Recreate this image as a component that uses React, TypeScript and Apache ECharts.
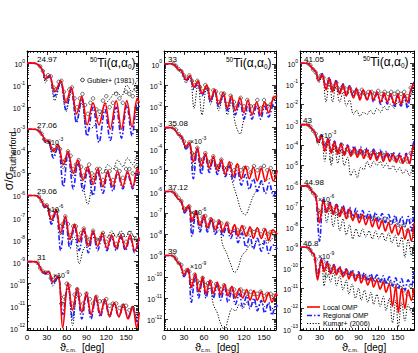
import React, { useEffect, useRef } from "react";
import * as echarts from "echarts";

const FONT = "'Liberation Sans', Arial, Helvetica, sans-serif";

// ---------- axis tick labels ----------
const xTickLabels = [0, 30, 60, 90, 120, 150];

// ---------- energies (MeV) and scale factors (log10) ----------
const energyLabels = ["24.97", "27.06", "29.06", "31", "33", "35.08", "37.12", "39", "41.05", "43", "44.98", "46.8"];
const scaleExponents = [0, -3, -6, -9, 0, -3, -6, -9, 0, -3, -6, -9];

// ---------- values: log10(sigma/sigma_Rutherford), unscaled ----------
// 24.97 MeV
const ang2497 = [0, 10, 18, 24, 28, 34, 42, 51, 59, 67, 75, 83, 91, 100, 109, 118, 126, 135, 143, 151, 159, 167, 170];
const local2497 = [0, 0, -0.1, -0.35, -0.7, -0.55, -1.3, -0.8, -1.8, -1.1, -2.3, -1.5, -2.8, -1.8, -2.8, -1.8, -3.0, -1.7, -3.0, -1.7, -2.9, -1.6, -1.8];
const regional2497 = [0, 0, -0.1, -0.35, -0.75, -0.6, -1.5, -0.85, -2.1, -1.2, -2.7, -1.6, -3.3, -2.0, -3.6, -2.1, -3.5, -2.0, -3.4, -1.9, -3.3, -1.8, -2.0];
const kumar2497 = [0, 0, -0.1, -0.4, -0.9, -0.55, -1.7, -0.9, -2.2, -1.3, -2.6, -1.8, -3.0, -2.9, -2.4, -1.9, -1.6, -1.3, -1.5, -1.0, -1.3, -0.8, -0.9];
const expAng2497 = [20, 24, 28, 32, 36, 40, 44, 48, 52, 56, 60, 64, 68, 72, 76, 80, 84, 88, 92, 96, 100, 105, 110, 115, 120, 125, 130, 135, 140, 145, 150, 155, 160, 165, 170];
const exp2497 = [-0.15, -0.35, -0.65, -0.55, -0.6, -1.1, -1.2, -0.85, -0.8, -1.3, -1.7, -1.2, -1.1, -1.6, -2.0, -1.6, -1.4, -1.9, -2.3, -1.8, -1.6, -2.1, -2.2, -1.7, -1.5, -2.0, -1.8, -1.4, -1.6, -1.8, -1.3, -1.4, -1.5, -1.2, -1.3];

// 27.06 MeV
const ang2706 = [0, 10, 17, 24, 28, 32, 40, 47, 55, 62, 70, 77, 85, 92, 100, 107, 115, 122, 130, 137, 145, 152, 160, 167, 170];
const local2706 = [0, 0, -0.05, -0.3, -0.55, -0.5, -1.0, -0.7, -1.6, -1.0, -2.0, -1.4, -2.3, -1.7, -2.5, -1.8, -2.6, -1.9, -2.6, -1.9, -2.6, -1.9, -2.6, -1.8, -2.0];
const regional2706 = [0, 0, -0.05, -0.3, -0.6, -0.55, -1.3, -0.75, -2.6, -1.05, -2.7, -1.5, -2.8, -1.8, -3.0, -1.9, -2.9, -2.0, -2.8, -2.0, -2.7, -2.0, -2.7, -1.9, -2.1];
const kumar2706 = [0, 0, -0.05, -0.3, -0.6, -0.55, -1.2, -0.75, -1.8, -1.1, -2.2, -1.6, -2.6, -3.4, -2.2, -1.9, -2.0, -1.6, -1.8, -1.4, -1.7, -1.3, -1.6, -1.2, -1.3];
const expAng2706 = [18, 22, 26, 30, 34, 38, 42, 46, 50, 54, 58, 62, 66, 70, 74, 78, 82, 86, 90, 94, 98, 102, 106, 110, 115, 120, 125, 130, 135, 140, 145, 150, 155, 160, 165];
const exp2706 = [-0.05, -0.2, -0.45, -0.55, -0.55, -0.9, -0.95, -0.75, -0.9, -1.5, -1.4, -1.0, -1.2, -1.8, -1.6, -1.4, -1.7, -2.1, -1.8, -1.6, -2.0, -2.2, -1.8, -1.8, -2.3, -1.9, -1.9, -2.3, -1.8, -1.9, -2.2, -1.8, -1.8, -2.0, -1.7];

// 29.06 MeV
const ang2906 = [0, 10, 17, 23, 27, 30, 37, 44, 51, 58, 65, 72, 79, 86, 93, 100, 107, 114, 121, 128, 135, 142, 149, 156, 163, 170];
const local2906 = [0, 0, -0.05, -0.3, -0.5, -0.45, -1.1, -0.65, -1.7, -0.95, -2.0, -1.3, -2.1, -1.5, -2.3, -1.6, -2.3, -1.7, -2.4, -1.8, -2.4, -1.8, -2.4, -1.8, -2.5, -1.9];
const regional2906 = [0, 0, -0.05, -0.3, -0.55, -0.5, -1.3, -0.7, -2.5, -1.0, -2.4, -1.4, -2.5, -1.6, -2.6, -1.7, -2.5, -1.8, -2.5, -1.9, -2.5, -1.9, -2.5, -1.9, -2.6, -2.0];
const kumar2906 = [0, 0, -0.05, -0.3, -0.55, -0.5, -1.2, -0.7, -1.8, -1.1, -2.2, -1.9, -3.1, -2.4, -2.2, -1.9, -2.0, -1.7, -1.9, -1.6, -1.9, -1.6, -1.9, -1.6, -1.9, -1.6];
const expAng2906 = [18, 22, 26, 30, 34, 38, 42, 46, 50, 54, 58, 62, 66, 70, 74, 78, 82, 86, 90, 95, 100, 105, 110, 115, 120, 125, 130, 135, 140, 145, 150, 155, 160, 165];
const exp2906 = [-0.05, -0.25, -0.45, -0.45, -0.7, -1.0, -0.7, -0.7, -1.4, -1.3, -0.95, -1.3, -1.8, -1.4, -1.4, -1.9, -1.7, -1.5, -1.9, -2.0, -1.6, -2.0, -2.0, -1.7, -2.1, -1.9, -1.8, -2.2, -1.8, -1.8, -2.1, -1.7, -1.9, -2.0];

// 31 MeV
const ang31 = [0, 10, 16, 22, 28, 33, 39, 47, 54, 62, 69, 76, 83, 90, 97, 104, 111, 118, 125, 132, 139, 146, 153, 160, 166, 170];
const local31 = [0, 0, -0.05, -0.4, -0.5, -0.45, -0.9, -0.65, -3.0, -0.95, -2.2, -1.2, -2.3, -1.4, -2.4, -1.55, -2.4, -1.7, -2.5, -1.85, -2.5, -1.95, -2.6, -2.05, -3.0, -2.3];
const regional31 = [0, 0, -0.05, -0.4, -0.55, -0.5, -1.0, -0.7, -2.4, -1.0, -2.6, -1.3, -2.6, -1.5, -2.6, -1.65, -2.5, -1.8, -2.5, -1.9, -2.5, -2.0, -2.5, -2.1, -2.7, -2.3];
const kumar31 = [0, 0, -0.05, -0.4, -0.55, -0.5, -1.1, -0.75, -1.9, -1.2, -2.9, -1.5, -2.2, -1.6, -2.4, -1.7, -2.3, -1.8, -2.4, -1.9, -2.5, -1.9, -2.6, -2.0, -2.6, -2.1];
const expAng31 = [16, 20, 24, 28, 32, 36, 40, 44, 48, 52, 56, 60, 64, 68, 72, 76, 80, 85, 90, 95, 100, 105, 110, 115, 120, 125, 130, 135, 140, 145, 150, 155, 160, 165, 170];
const exp31 = [-0.05, -0.3, -0.45, -0.5, -0.5, -0.75, -0.85, -0.7, -0.7, -1.9, -1.6, -1.0, -1.1, -1.9, -1.5, -1.25, -1.5, -1.9, -1.45, -1.7, -1.9, -1.6, -1.8, -1.8, -1.7, -2.0, -1.9, -1.9, -2.1, -2.0, -2.0, -2.2, -2.1, -2.4, -2.2];

// measured angles shared by the middle panel data sets
const expAngMid = [14, 18, 22, 26, 30, 34, 38, 42, 46, 50, 54, 58, 62, 66, 70, 74, 78, 82, 86, 90, 95, 100, 105, 110, 115, 120, 125, 130, 135, 140, 145, 150, 155, 160, 165];

// 33 MeV
const ang33 = [0, 10, 16, 21, 27, 33, 39, 45, 51, 57, 64, 70, 76, 82, 89, 95, 101, 107, 114, 120, 126, 132, 139, 145, 151, 157, 164, 170];
const local33 = [0, 0, -0.05, -0.25, -0.35, -0.75, -0.55, -1.1, -0.8, -1.4, -1.0, -1.7, -1.2, -1.9, -1.35, -2.1, -1.5, -2.2, -1.6, -2.3, -1.7, -2.4, -1.8, -2.4, -1.8, -2.3, -1.6, -1.5];
const regional33 = [0, 0, -0.05, -0.25, -0.4, -0.8, -0.6, -1.2, -0.85, -1.5, -1.05, -1.8, -1.25, -2.0, -1.45, -2.2, -1.6, -2.4, -1.8, -2.6, -1.9, -2.6, -2.0, -2.6, -2.0, -2.5, -1.9, -1.8];
const kumar33 = [0, 0, -0.05, -0.25, -0.4, -0.9, -0.6, -2.1, -0.9, -2.4, -1.1, -1.9, -1.3, -2.2, -1.5, -2.4, -1.8, -2.8, -3.3, -2.6, -2.2, -2.3, -1.9, -2.1, -1.8, -2.0, -1.7, -1.6];
const exp33 = [0, -0.1, -0.25, -0.35, -0.55, -0.7, -0.55, -0.8, -1.0, -0.8, -1.1, -1.3, -1.0, -1.2, -1.6, -1.25, -1.3, -1.8, -1.4, -1.4, -1.9, -1.5, -1.8, -2.0, -1.6, -2.0, -1.7, -2.0, -2.0, -1.7, -2.1, -1.7, -2.0, -1.9, -1.6];

// 35.08 MeV
const ang3508 = [0, 10, 15, 21, 27, 33, 38, 44, 50, 56, 62, 68, 74, 80, 86, 92, 98, 104, 110, 116, 122, 128, 134, 140, 146, 152, 158, 164, 170];
const local3508 = [0, 0, -0.05, -0.3, -0.45, -0.9, -0.7, -1.6, -0.95, -1.8, -1.2, -1.9, -1.35, -2.0, -1.5, -2.2, -1.6, -2.3, -1.7, -2.4, -1.8, -2.4, -1.85, -2.5, -1.9, -2.5, -1.95, -2.5, -2.0];
const regional3508 = [0, 0, -0.05, -0.3, -0.5, -1.0, -0.75, -2.4, -1.0, -2.2, -1.25, -2.1, -1.45, -2.2, -1.6, -2.3, -1.8, -2.5, -2.0, -2.7, -2.2, -2.9, -2.4, -3.0, -2.5, -3.1, -2.6, -3.2, -2.8];
const kumar3508 = [0, 0, -0.05, -0.3, -0.5, -1.0, -0.75, -1.9, -1.05, -2.0, -1.3, -2.0, -1.5, -2.1, -1.8, -2.2, -2.2, -2.7, -3.3, -3.9, -4.1, -3.7, -3.2, -2.9, -2.6, -2.5, -2.4, -2.3, -2.3];
const exp3508 = [0, -0.1, -0.3, -0.45, -0.65, -0.9, -0.7, -1.2, -1.3, -0.95, -1.5, -1.5, -1.2, -1.6, -1.6, -1.35, -1.8, -1.8, -1.5, -1.9, -1.9, -1.7, -2.0, -1.8, -2.0, -1.9, -1.9, -2.1, -1.8, -2.0, -1.9, -1.8, -2.0, -1.9, -2.1];

// 37.12 MeV
const ang3712 = [0, 10, 15, 20, 26, 31, 37, 42, 48, 54, 60, 65, 71, 77, 83, 88, 94, 100, 106, 111, 117, 123, 129, 134, 140, 146, 152, 157, 163, 170];
const local3712 = [0, 0, -0.05, -0.3, -0.45, -0.9, -0.65, -1.4, -0.9, -1.6, -1.1, -1.7, -1.25, -1.8, -1.35, -1.9, -1.45, -2.0, -1.55, -2.1, -1.6, -2.1, -1.65, -2.2, -1.7, -2.2, -1.75, -2.3, -1.8, -2.0];
const regional3712 = [0, 0, -0.05, -0.3, -0.5, -1.0, -0.7, -2.1, -0.95, -1.9, -1.15, -1.9, -1.3, -2.0, -1.45, -2.1, -1.6, -2.2, -1.8, -2.4, -1.95, -2.6, -2.1, -2.7, -2.2, -2.8, -2.3, -2.9, -2.5, -2.7];
const kumar3712 = [0, 0, -0.05, -0.3, -0.5, -1.0, -0.7, -1.7, -1.0, -1.8, -1.2, -1.8, -1.4, -2.0, -1.8, -2.5, -2.9, -3.4, -3.8, -3.6, -3.0, -2.8, -2.5, -2.6, -2.3, -2.5, -2.2, -2.4, -2.2, -2.2];
const exp3712 = [0, -0.15, -0.3, -0.45, -0.8, -0.8, -0.7, -1.3, -1.0, -1.0, -1.5, -1.2, -1.15, -1.6, -1.3, -1.4, -1.7, -1.4, -1.5, -1.8, -1.5, -1.9, -1.7, -1.8, -1.9, -1.7, -2.0, -1.8, -1.9, -1.8, -2.0, -1.8, -2.0, -1.9, -2.0];

// 39 MeV
const ang39 = [0, 10, 15, 20, 25, 30, 36, 41, 47, 52, 58, 63, 69, 74, 80, 85, 91, 96, 102, 107, 113, 118, 124, 129, 135, 140, 146, 151, 157, 162, 168, 170];
const local39 = [0, 0, -0.05, -0.3, -0.45, -0.9, -0.6, -1.5, -0.85, -1.7, -1.0, -1.8, -1.15, -1.8, -1.25, -1.85, -1.35, -1.9, -1.45, -2.0, -1.55, -2.0, -1.6, -2.1, -1.65, -2.1, -1.7, -2.2, -1.75, -2.2, -1.8, -1.9];
const regional39 = [0, 0, -0.05, -0.3, -0.5, -1.0, -0.65, -2.2, -0.9, -2.0, -1.1, -2.0, -1.25, -2.0, -1.4, -2.1, -1.5, -2.2, -1.65, -2.3, -1.8, -2.4, -1.9, -2.5, -2.0, -2.6, -2.1, -2.7, -2.2, -2.8, -2.3, -2.4];
const kumar39 = [0, 0, -0.05, -0.3, -0.5, -1.0, -0.65, -1.6, -0.95, -1.8, -1.2, -1.9, -1.5, -2.3, -2.7, -3.2, -3.5, -3.0, -2.5, -2.6, -2.3, -2.5, -2.2, -2.4, -2.2, -2.4, -2.2, -2.4, -2.3, -2.5, -2.4, -2.5];
const exp39 = [0, -0.15, -0.35, -0.45, -0.8, -0.7, -0.75, -1.2, -0.9, -1.2, -1.3, -1.05, -1.4, -1.3, -1.25, -1.6, -1.35, -1.5, -1.6, -1.4, -1.7, -1.6, -1.6, -1.8, -1.6, -1.7, -1.8, -1.7, -1.8, -1.8, -1.7, -1.9, -1.8, -1.8, -1.9];

// measured angles shared by the right panel data sets
const expAngRight = [12, 16, 20, 24, 28, 32, 36, 40, 44, 48, 52, 56, 60, 64, 68, 72, 76, 80, 85, 90, 95, 100, 105, 110, 115, 120, 125, 130, 135, 140, 145, 150, 155, 160, 165, 170];

// 41.05 MeV
const ang4105 = [0, 10, 14, 19, 24, 29, 34, 40, 45, 50, 55, 61, 66, 71, 76, 82, 87, 92, 97, 103, 108, 113, 118, 124, 129, 134, 139, 145, 150, 155, 160, 165, 170, 175];
const local4105 = [0, 0, -0.05, -0.25, -0.4, -0.85, -0.55, -1.3, -0.75, -1.4, -0.9, -1.5, -1.05, -1.6, -1.15, -1.7, -1.25, -1.8, -1.3, -1.8, -1.35, -1.8, -1.4, -1.9, -1.45, -1.9, -1.5, -2.0, -1.5, -2.0, -1.5, -1.9, -1.3, -1.0];
const regional4105 = [0, 0, -0.05, -0.25, -0.4, -0.8, -0.5, -1.2, -0.7, -1.35, -0.85, -1.45, -1.0, -1.55, -1.1, -1.65, -1.2, -1.75, -1.3, -1.8, -1.4, -1.9, -1.5, -2.0, -1.55, -2.0, -1.6, -2.1, -1.6, -2.1, -1.6, -2.2, -1.4, -0.9];
const kumar4105 = [0, 0, -0.05, -0.25, -0.45, -0.95, -0.6, -1.9, -0.85, -1.9, -1.1, -1.9, -1.4, -2.1, -1.8, -2.5, -2.3, -2.6, -2.4, -2.5, -2.3, -2.5, -2.2, -2.4, -2.1, -2.3, -2.0, -2.2, -1.9, -2.1, -1.8, -2.0, -1.6, -1.2];
const exp4105 = [0, -0.1, -0.3, -0.45, -0.75, -0.6, -0.7, -1.1, -0.8, -1.1, -1.2, -0.95, -1.3, -1.2, -1.2, -1.45, -1.2, -1.4, -1.4, -1.5, -1.3, -1.5, -1.4, -1.4, -1.5, -1.35, -1.5, -1.4, -1.5, -1.4, -1.5, -1.4, -1.5, -1.4, -1.6, -1.2];

// 43 MeV
const ang43 = [0, 10, 14, 18, 23, 28, 33, 38, 43, 48, 53, 58, 63, 68, 73, 78, 83, 88, 93, 98, 103, 108, 113, 118, 123, 128, 133, 138, 143, 148, 153, 158, 163, 168, 172, 175];
const local43 = [0, 0, -0.05, -0.2, -0.4, -0.85, -0.55, -1.3, -0.7, -1.4, -0.85, -1.45, -0.95, -1.5, -1.05, -1.55, -1.15, -1.6, -1.2, -1.65, -1.25, -1.7, -1.3, -1.75, -1.35, -1.8, -1.4, -1.8, -1.45, -1.85, -1.5, -1.9, -1.5, -1.9, -1.3, -1.0];
const regional43 = [0, 0, -0.05, -0.2, -0.4, -0.8, -0.5, -1.2, -0.65, -1.3, -0.8, -1.35, -0.9, -1.4, -1.0, -1.45, -1.05, -1.5, -1.1, -1.55, -1.15, -1.6, -1.2, -1.65, -1.25, -1.7, -1.3, -1.75, -1.35, -1.8, -1.4, -1.85, -1.4, -1.9, -1.2, -0.8];
const kumar43 = [0, 0, -0.05, -0.2, -0.45, -1.0, -0.6, -1.8, -0.8, -2.0, -1.0, -1.9, -1.2, -2.0, -1.6, -2.5, -2.2, -2.6, -2.1, -2.2, -1.8, -2.1, -1.8, -2.0, -1.8, -2.1, -1.9, -2.2, -2.0, -2.3, -2.1, -2.4, -2.2, -2.5, -2.2, -2.0];
const exp43 = [0, -0.1, -0.3, -0.45, -0.8, -0.6, -0.9, -1.0, -0.75, -1.7, -1.0, -1.2, -1.3, -1.0, -1.4, -1.2, -1.3, -1.4, -1.3, -1.4, -1.4, -1.3, -1.5, -1.4, -1.4, -1.5, -1.4, -1.5, -1.5, -1.5, -1.7, -1.6, -1.8, -1.7, -1.8, -1.4];

// 44.98 MeV
const ang4498 = [0, 10, 14, 19, 24, 30, 36, 41, 46, 51, 56, 61, 66, 71, 76, 81, 86, 91, 96, 101, 106, 111, 116, 121, 126, 131, 136, 141, 146, 151, 156, 161, 166, 171, 175];
const local4498 = [0, 0, -0.05, -0.3, -0.45, -1.8, -0.7, -1.3, -0.85, -1.4, -0.95, -1.5, -1.05, -1.6, -1.15, -1.7, -1.3, -1.8, -1.4, -1.9, -1.5, -2.0, -1.6, -2.1, -1.7, -2.2, -1.8, -2.3, -1.9, -2.4, -2.0, -2.6, -2.1, -2.7, -1.8];
const regional4498 = [0, 0, -0.05, -0.3, -0.45, -2.7, -0.65, -1.2, -0.8, -1.3, -0.9, -1.35, -0.95, -1.4, -1.05, -1.5, -1.1, -1.55, -1.2, -1.6, -1.25, -1.7, -1.3, -1.75, -1.35, -1.8, -1.4, -1.85, -1.45, -1.9, -1.5, -2.0, -1.5, -2.2, -1.2];
const kumar4498 = [0, 0, -0.05, -0.3, -0.5, -1.6, -0.8, -1.8, -1.1, -2.0, -1.3, -2.2, -1.6, -2.4, -1.9, -2.6, -2.1, -2.5, -2.1, -2.5, -2.2, -2.6, -2.2, -2.6, -2.3, -2.7, -2.3, -2.8, -2.4, -3.0, -2.5, -3.5, -2.6, -3.4, -2.8];
const exp4498 = [0, -0.15, -0.35, -0.5, -1.2, -1.3, -0.75, -1.2, -0.9, -1.1, -1.3, -1.0, -1.4, -1.2, -1.3, -1.5, -1.25, -1.5, -1.45, -1.5, -1.5, -1.55, -1.5, -1.6, -1.6, -1.6, -1.7, -1.6, -1.7, -1.8, -1.7, -1.9, -2.0, -1.9, -2.2, -1.7];

// 46.8 MeV
const ang468 = [0, 10, 14, 18, 22, 27, 33, 37, 42, 47, 52, 56, 61, 66, 71, 75, 80, 85, 90, 94, 99, 104, 109, 113, 118, 123, 128, 132, 137, 142, 147, 151, 156, 161, 166, 171, 175];
const local468 = [0, 0, -0.05, -0.25, -0.4, -1.6, -0.6, -1.2, -0.75, -1.3, -0.9, -1.35, -1.0, -1.45, -1.1, -1.55, -1.2, -1.65, -1.3, -1.75, -1.4, -1.85, -1.5, -1.95, -1.6, -2.05, -1.7, -2.2, -1.8, -2.9, -1.9, -3.2, -2.0, -3.0, -2.1, -2.6, -2.0];
const regional468 = [0, 0, -0.05, -0.25, -0.4, -1.4, -0.55, -1.1, -0.7, -1.2, -0.85, -1.25, -0.95, -1.35, -1.05, -1.4, -1.1, -1.5, -1.2, -1.55, -1.25, -1.6, -1.3, -1.65, -1.35, -1.7, -1.4, -1.8, -1.45, -1.9, -1.5, -2.0, -1.55, -2.1, -1.6, -1.9, -1.2];
const kumar468 = [0, 0, -0.05, -0.25, -0.45, -1.3, -0.7, -1.9, -0.9, -1.7, -1.2, -1.9, -1.4, -2.1, -1.6, -2.3, -1.8, -2.5, -2.0, -2.6, -2.1, -2.7, -2.2, -2.8, -2.3, -2.9, -2.4, -3.1, -2.5, -3.7, -2.6, -3.9, -2.7, -3.6, -2.8, -3.2, -2.9];
const exp468 = [0, -0.15, -0.35, -0.6, -1.2, -0.8, -0.7, -1.4, -0.9, -1.1, -1.0, -1.2, -1.1, -1.25, -1.3, -1.2, -1.35, -1.3, -1.45, -1.4, -1.45, -1.5, -1.5, -1.55, -1.6, -1.6, -1.65, -1.7, -1.7, -1.8, -1.9, -1.9, -2.0, -2.1, -2.3, -1.9];

const SETS = [
  { ang: ang2497, loc: local2497, reg: regional2497, kum: kumar2497, eA: expAng2497, eV: exp2497 },
  { ang: ang2706, loc: local2706, reg: regional2706, kum: kumar2706, eA: expAng2706, eV: exp2706 },
  { ang: ang2906, loc: local2906, reg: regional2906, kum: kumar2906, eA: expAng2906, eV: exp2906 },
  { ang: ang31, loc: local31, reg: regional31, kum: kumar31, eA: expAng31, eV: exp31 },
  { ang: ang33, loc: local33, reg: regional33, kum: kumar33, eA: expAngMid, eV: exp33 },
  { ang: ang3508, loc: local3508, reg: regional3508, kum: kumar3508, eA: expAngMid, eV: exp3508 },
  { ang: ang3712, loc: local3712, reg: regional3712, kum: kumar3712, eA: expAngMid, eV: exp3712 },
  { ang: ang39, loc: local39, reg: regional39, kum: kumar39, eA: expAngMid, eV: exp39 },
  { ang: ang4105, loc: local4105, reg: regional4105, kum: kumar4105, eA: expAngRight, eV: exp4105 },
  { ang: ang43, loc: local43, reg: regional43, kum: kumar43, eA: expAngRight, eV: exp43 },
  { ang: ang4498, loc: local4498, reg: regional4498, kum: kumar4498, eA: expAngRight, eV: exp4498 },
  { ang: ang468, loc: local468, reg: regional468, kum: kumar468, eA: expAngRight, eV: exp468 },
];

// ---------- layout ----------
const PANELS = [
  { left: 27, width: 111, xMax: 168, yMin: -12.1, yMax: 0.55 },
  { left: 164, width: 112, xMax: 168, yMin: -12.5, yMax: 0.6 },
  { left: 300, width: 114, xMax: 175, yMin: -13.05, yMax: 0.6 },
];
const GRID_TOP = 51;
const GRID_H = 279;

const ENERGY_POS = [
  [37, 59], [37, 125], [37, 191], [37, 257],
  [168, 59], [168, 123], [168, 187], [168, 251],
  [304, 59], [303, 120], [304, 182], [303, 243],
];
const SCALE_POS = [
  null, [47, 141], [47, 208], [53, 274],
  null, [190, 140], [190, 211], [190, 265],
  null, [320, 134], [318, 198], [318, 255],
];
const TITLE_POS = [[90, 63], [226, 63], [363, 62]];

const RED = "#ff0000";
const BLUE = "#1f1fff";

function buildOption() {
  const grid = PANELS.map((p) => ({ left: p.left, top: GRID_TOP, width: p.width, height: GRID_H }));
  const xAxis: any[] = [];
  const yAxis: any[] = [];
  PANELS.forEach((p, g) => {
    const major = xTickLabels.filter((v) => v <= p.xMax);
    const minor: number[] = [];
    for (let v = 0; v <= p.xMax; v += 5) minor.push(v);
    const lineOn = { show: true, onZero: false, lineStyle: { color: "#000", width: 1 } };
    const lineOff = { show: false, onZero: false };
    const mkx = (pos: string, ticks: number[], len: number, line: boolean, labels: boolean) => ({
      type: "value", gridIndex: g, min: 0, max: p.xMax, position: pos,
      axisLine: line ? lineOn : lineOff,
      axisTick: { show: true, inside: true, length: len, customValues: ticks, lineStyle: { color: "#000", width: 0.8 } },
      axisLabel: labels
        ? { show: true, customValues: major, fontSize: 8, margin: 3, color: "#000", fontFamily: FONT }
        : { show: false },
      splitLine: { show: false },
    });
    xAxis.push(mkx("bottom", major, 4, true, true), mkx("bottom", minor, 2, false, false), mkx("top", major, 4, true, false), mkx("top", minor, 2, false, false));

    const decades: number[] = [];
    for (let n = Math.ceil(p.yMin); n <= Math.floor(p.yMax); n++) decades.push(n);
    const minorY: number[] = [];
    for (let n = Math.floor(p.yMin); n <= 0; n++) {
      for (let k = 2; k <= 9; k++) {
        const v = n + Math.log10(k);
        if (v >= p.yMin && v <= p.yMax) minorY.push(v);
      }
    }
    const mky = (pos: string, ticks: number[], len: number, line: boolean, labels: boolean) => ({
      type: "value", gridIndex: g, min: p.yMin, max: p.yMax, position: pos,
      axisLine: line ? lineOn : lineOff,
      axisTick: { show: true, inside: true, length: len, customValues: ticks, lineStyle: { color: "#000", width: 0.8 } },
      axisLabel: labels
        ? {
            show: true, customValues: decades, margin: 2, color: "#000",
            formatter: (v: number) => `{b|10}{s|${Math.round(v)}}`,
            rich: {
              b: { fontSize: 7, fontFamily: FONT, color: "#000", lineHeight: 10, verticalAlign: "bottom" },
              s: { fontSize: 5, fontFamily: FONT, color: "#000", lineHeight: 10, verticalAlign: "top" },
            },
          }
        : { show: false },
      splitLine: { show: false },
    });
    yAxis.push(mky("left", decades, 4, true, true), mky("left", minorY, 2, false, false), mky("right", decades, 4, true, false), mky("right", minorY, 2, false, false));
  });

  const series: any[] = [];
  SETS.forEach((s, i) => {
    const g = Math.floor(i / 4);
    const off = scaleExponents[i];
    const pts = (a: number[], v: number[]) => a.slice(0, Math.min(a.length, v.length)).map((x, j) => [x, v[j] + off]);
    const common = { xAxisIndex: g * 4, yAxisIndex: g * 4, silent: true, animation: false, clip: true };
    series.push({
      ...common, type: "scatter", name: "Gubler", data: pts(s.eA, s.eV), symbol: "circle", symbolSize: 3.5,
      itemStyle: { color: "rgba(255,255,255,0)", borderColor: "#000", borderWidth: 0.7 }, z: 2,
    });
    series.push({
      ...common, type: "line", name: "Kumar+ (2006)", data: pts(s.ang, s.kum), showSymbol: false, smooth: 0.35,
      lineStyle: { color: "#000", width: 1, type: [1.2, 1.6] }, z: 3,
    });
    series.push({
      ...common, type: "line", name: "Regional OMP", data: pts(s.ang, s.reg), showSymbol: false, smooth: 0.35,
      lineStyle: { color: BLUE, width: 1.6, type: [5, 2, 1.5, 2] }, z: 4,
    });
    series.push({
      ...common, type: "line", name: "Local OMP", data: pts(s.ang, s.loc), showSymbol: false, smooth: 0.35,
      lineStyle: { color: RED, width: 1.6 }, z: 5,
    });
  });

  const graphic: any[] = [];
  const txt = (x: number, y: number, text: string, rich: any, font = `8px ${FONT}`) => ({
    type: "text", x, y, silent: true, z: 100,
    style: { text, rich, fill: "#000", align: "left", verticalAlign: "middle", font },
  });
  const tok = (size: number, lh: number, va: string, extra: any = {}) => ({
    fontSize: size, fontFamily: FONT, fill: "#000", color: "#000", lineHeight: lh, verticalAlign: va, ...extra,
  });

  energyLabels.forEach((e, i) => {
    const [x, y] = ENERGY_POS[i];
    graphic.push(txt(x, y, e, undefined));
    const sp = SCALE_POS[i];
    if (sp) {
      graphic.push(txt(sp[0], sp[1], `{b|×10}{s|${scaleExponents[i]}}`, {
        b: tok(7, 10, "bottom"),
        s: tok(5, 10, "top"),
      }));
    }
  });

  const titleRich = {
    sup: tok(6.5, 14, "top"),
    m: tok(12, 14, "middle"),
    sub: tok(6.5, 14, "bottom"),
  };
  TITLE_POS.forEach(([x, y]) => {
    graphic.push(txt(x, y, "{sup|50}{m|Ti(α,α}{sub|0}{m|)}", titleRich));
  });

  graphic.push({ type: "circle", shape: { cx: 82.5, cy: 80, r: 1.8 }, style: { fill: "none", stroke: "#000", lineWidth: 0.8 }, z: 100 });
  graphic.push(txt(87, 80, "Gubler+ (1981)", undefined, `7px ${FONT}`));

  const legendRows = [
    { y: 307, stroke: RED, dash: null, width: 1.6, label: "Local OMP" },
    { y: 315.5, stroke: BLUE, dash: [5, 2, 1.5, 2], width: 1.6, label: "Regional OMP" },
    { y: 323.5, stroke: "#000", dash: [1.2, 1.6], width: 1, label: "Kumar+ (2006)" },
  ];
  legendRows.forEach((r) => {
    graphic.push({
      type: "line", z: 100, shape: { x1: 307, y1: r.y, x2: 320, y2: r.y },
      style: { stroke: r.stroke, lineWidth: r.width, lineDash: r.dash || undefined },
    });
    graphic.push(txt(323, r.y, r.label, undefined, `7px ${FONT}`));
  });

  graphic.push({
    type: "text", x: 9, y: 161, rotation: Math.PI / 2, z: 100,
    style: {
      text: "{a|σ/σ}{b|Rutherford}", align: "center", verticalAlign: "middle", fill: "#000",
      rich: { a: tok(12, 16, "middle"), b: tok(8.5, 16, "bottom") },
    },
  });

  const xtRich = { a: tok(11, 11, "middle"), b: tok(5.5, 11, "bottom"), c: tok(10, 11, "middle") };
  [60, 195, 342].forEach((x) => {
    graphic.push(txt(x, 347, "{a|ϑ}{b|c.m.}{c|  [deg]}", xtRich));
  });

  return { animation: false, backgroundColor: "#fff", grid, xAxis, yAxis, series, graphic };
}

export default function App() {
  const ref = useRef<HTMLDivElement>(null);
  useEffect(() => {
    if (!ref.current) return;
    const chart = echarts.init(ref.current, undefined, { renderer: "svg" });
    chart.setOption(buildOption() as any);
    return () => chart.dispose();
  }, []);
  return <div ref={ref} style={{ width: 418, height: 353, position: "absolute", left: 0, top: 0 }} />;
}
